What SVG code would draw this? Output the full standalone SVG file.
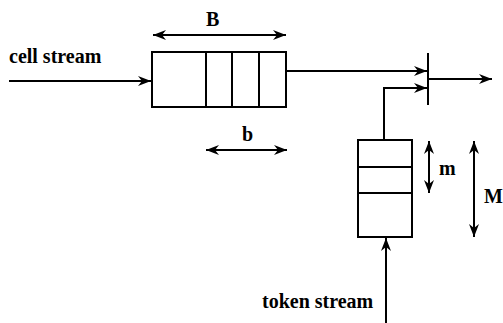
<svg xmlns="http://www.w3.org/2000/svg" width="503" height="323" viewBox="0 0 503 323">
<style>
.l{stroke:#000;stroke-width:2;fill:none}
.b{stroke:#000;stroke-width:2;fill:#fff}
text{font-family:"Liberation Serif","Times New Roman",serif;font-weight:bold;font-size:20px;fill:#000}
</style>
<defs>
<marker id="ah" markerWidth="14" markerHeight="10" refX="13" refY="5" orient="auto-start-reverse" markerUnits="userSpaceOnUse">
<path d="M0,0 L13,5 L0,10 L4,5 Z" fill="#000"/>
</marker>
</defs>
<rect width="503" height="323" fill="#fff"/>
<g id="cell-buffer">
<rect class="b" x="152" y="52" width="134" height="55"/>
<line class="l" x1="206" y1="52" x2="206" y2="107"/>
<line class="l" x1="232" y1="52" x2="232" y2="107"/>
<line class="l" x1="259" y1="52" x2="259" y2="107"/>
</g>
<g id="token-buffer">
<rect class="b" x="358" y="140" width="54" height="97"/>
<line class="l" x1="358" y1="167" x2="412" y2="167"/>
<line class="l" x1="358" y1="193" x2="412" y2="193"/>
</g>
<g id="gate">
<line class="l" x1="428" y1="53" x2="428" y2="105"/>
</g>
<g id="connectors">
<line class="l" x1="9" y1="81" x2="151" y2="81" marker-end="url(#ah)"/>
<line class="l" x1="286" y1="71" x2="427" y2="71" marker-end="url(#ah)"/>
<polyline class="l" points="384,140 384,88 427,88" marker-end="url(#ah)"/>
<line class="l" x1="428" y1="79" x2="492" y2="79" marker-end="url(#ah)"/>
<line class="l" x1="386" y1="323" x2="386" y2="238" marker-end="url(#ah)"/>
<line class="l" x1="153" y1="35" x2="286" y2="35" marker-start="url(#ah)" marker-end="url(#ah)"/>
<line class="l" x1="206" y1="150" x2="287" y2="150" marker-start="url(#ah)" marker-end="url(#ah)"/>
<line class="l" x1="429" y1="141" x2="429" y2="193" marker-start="url(#ah)" marker-end="url(#ah)"/>
<line class="l" x1="474" y1="141" x2="474" y2="237" marker-start="url(#ah)" marker-end="url(#ah)"/>
</g>
<g id="labels">
<text x="9" y="63">cell stream</text>
<text x="206" y="26">B</text>
<text x="242" y="141">b</text>
<text x="439" y="175">m</text>
<text x="484" y="203">M</text>
<text x="262" y="308">token stream</text>
</g>
</svg>
